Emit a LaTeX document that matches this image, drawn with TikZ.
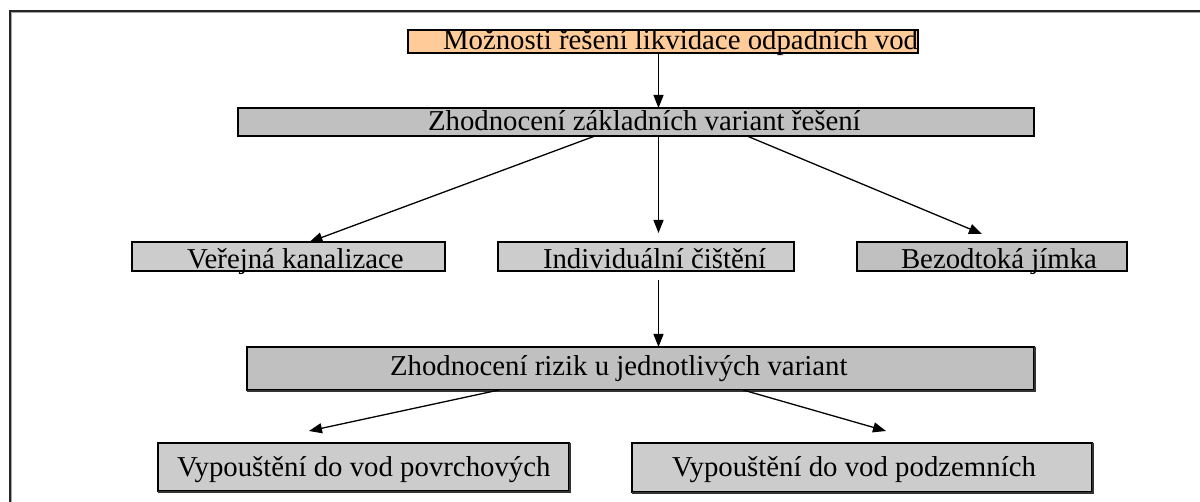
\documentclass[tikz,border=0pt]{standalone}
\usepackage{fontspec}
\setmainfont{Liberation Serif}
\usetikzlibrary{arrows.meta,calc}
\definecolor{orangeF}{RGB}{255,204,153}
\definecolor{greyA}{RGB}{192,192,192}
\definecolor{greyB}{RGB}{204,204,204}
\begin{document}
\begin{tikzpicture}[x=1pt,y=-1pt,
  boxx/.style={draw=black, line width=1.3pt, inner sep=0pt, outer sep=0pt},
  shadowline/.style={draw=black!80, line width=1.2pt},
  txt/.style={inner sep=0pt, outer sep=0pt, anchor=base west, font=\fontsize{28.8}{30}\selectfont},
  arr/.style={draw=black, line width=1.3pt, -{Triangle[length=13pt,width=10pt]}}]
\useasboundingbox (0,0) rectangle (1200,502);
% frame
\draw[line width=2pt, black!85] (9.5,520) |- (1220,11);
\draw[line width=1pt, black!35] (11.5,520) |- (1220,13);
% boxes
\node[boxx, fill=orangeF, minimum width=510pt, minimum height=23pt] (top) at (663,41.5) {};
\node[boxx, fill=greyA, minimum width=796pt, minimum height=28pt] (z1) at (636,122) {};
\node[boxx, fill=greyB, minimum width=313pt, minimum height=29pt] (ver) at (288.5,256.5) {};
\node[boxx, fill=greyB, minimum width=296pt, minimum height=29pt] (ind) at (646,256.5) {};
\node[boxx, fill=greyA, minimum width=270pt, minimum height=29pt] (bez) at (992,256.5) {};
\node[boxx, fill=greyA, minimum width=787pt, minimum height=43pt] (rz) at (640.5,368.5) {};
\node[boxx, fill=greyB, minimum width=411pt, minimum height=48pt] (pv) at (363.5,467) {};
\node[boxx, fill=greyB, minimum width=460pt, minimum height=49pt] (pd) at (862,467.5) {};
% shadows on right and bottom edges
\draw[shadowline] ([xshift=1pt]rz.north east) -- ([xshift=1pt,yshift=-1pt]rz.south east) -- ([yshift=-1pt]rz.south west);
\draw[shadowline] ([xshift=1pt]pv.north east) -- ([xshift=1pt,yshift=-1pt]pv.south east) -- ([yshift=-1pt]pv.south west);
\draw[shadowline] ([xshift=1pt]pd.north east) -- ([xshift=1pt,yshift=-1pt]pd.south east) -- ([yshift=-1pt]pd.south west);
% texts
\node[txt] (ttop) at (443,50) {Možnosti řešení likvidace odpadních vod};
\node[txt] (tz1) at (428,131) {Zhodnocení základních variant řešení};
\node[txt] (tver) at (187,269) {Veřejná kanalizace};
\node[txt] (tind) at (543,269) {Individuální čištění};
\node[txt] (tbez) at (901,269) {Bezodtoká jímka};
\node[txt] (trz) at (390,376) {Zhodnocení rizik u jednotlivých variant};
\node[txt] (tpv) at (177,477) {Vypouštění do vod povrchových};
\node[txt] (tpd) at (672,477) {Vypouštění do vod podzemních};
% connectors
\draw[arr] ([xshift=-4.5pt]top.south) -- ([xshift=22.5pt]z1.north);
\draw[arr] ([xshift=-41pt]z1.south) -- ([xshift=21pt]ver.north);
\draw[arr] ([xshift=22.5pt]z1.south) -- ([xshift=12.5pt,yshift=9pt]ind.north);
\draw[arr] ([xshift=111pt]z1.south) -- ([xshift=-10pt,yshift=8pt]bez.north);
\draw[arr] ([xshift=12.5pt,yshift=-9pt]ind.south) -- ([xshift=18pt]rz.north);
\draw[arr] ([xshift=-141.5pt]rz.south) -- ([xshift=-54.5pt,yshift=12pt]pv.north);
\draw[arr] ([xshift=102.5pt]rz.south) -- ([xshift=24pt,yshift=12pt]pd.north);
\end{tikzpicture}
\end{document}
